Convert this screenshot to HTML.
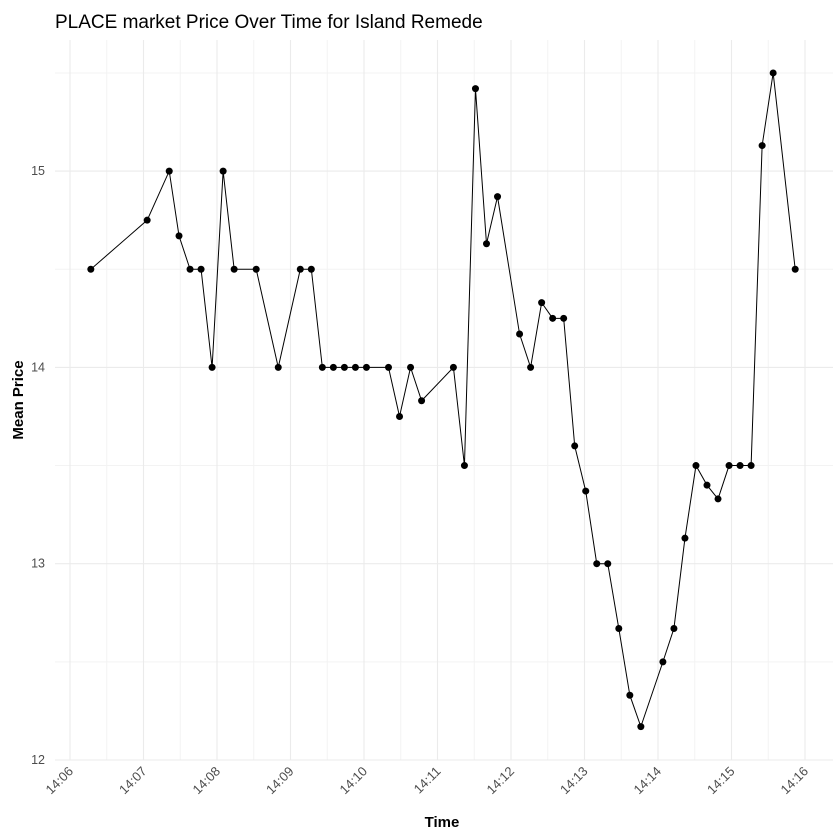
<!DOCTYPE html>
<html><head><meta charset="utf-8"><style>
body{margin:0;background:#fff;}
svg{display:block;font-family:"Liberation Sans",sans-serif;}
</style></head><body>
<svg id="chart" width="840" height="840"></svg>
<script>
const timesSec=[17,63,81,89,98,107,116,125,134,152,170,188,197,206,215,224,233,242,260,269,278,287,313,322,331,340,349,367,376,385,394,403,412,421,430,439,448,457,466,484,493,502,511,520,529,538,547,556,565,574,592];
const prices=[14.5,14.75,15,14.67,14.5,14.5,14,15,14.5,14.5,14,14.5,14.5,14,14,14,14,14,14,13.75,14,13.83,14,13.5,15.42,14.63,14.87,14.17,14,14.33,14.25,14.25,13.6,13.37,13,13,12.67,12.33,12.17,12.5,12.67,13.13,13.5,13.4,13.33,13.5,13.5,13.5,15.13,15.5,14.5];
const xTickLabels=["14:06","14:07","14:08","14:09","14:10","14:11","14:12","14:13","14:14","14:15","14:16"];
const yTickValues=[12,13,14,15];
const NS="http://www.w3.org/2000/svg";
const svg=document.getElementById('chart');
const L=55,R=833,T=40,B=760;
function xs(sec){return 70+sec/60*73.5;}
function ys(v){return 760-(v-12)*196.3;}
function mk(tag,attrs,parent){const e=document.createElementNS(NS,tag);for(const k in attrs)e.setAttribute(k,attrs[k]);(parent||svg).appendChild(e);return e;}
const grid=mk('g',{});


for(let i=0;i<xTickLabels.length-1;i++){const x=xs(i*60+30);mk('line',{x1:x,x2:x,y1:T,y2:B,stroke:'#f3f3f3','stroke-width':1},grid);}
for(let v=12.5;v<=15.5;v+=1){const y=ys(v);mk('line',{x1:L,x2:R,y1:y,y2:y,stroke:'#f3f3f3','stroke-width':1},grid);}
xTickLabels.forEach((t,i)=>{const x=xs(i*60);mk('line',{x1:x,x2:x,y1:T,y2:B,stroke:'#ebebeb','stroke-width':1.1},grid);});
yTickValues.forEach(v=>{const y=ys(v);mk('line',{x1:L,x2:R,y1:y,y2:y,stroke:'#ebebeb','stroke-width':1.1},grid);});
yTickValues.forEach(v=>{const t=mk('text',{x:45,y:ys(v)+4,'text-anchor':'end','font-size':12.5,fill:'#4d4d4d'});t.textContent=v;

});
xTickLabels.forEach((lab,i)=>{const x=xs(i*60);const t=mk('text',{x:x+4,y:772,'text-anchor':'end','font-size':13,fill:'#4d4d4d',transform:`rotate(-45 ${x+4} 772)`});t.textContent=lab;

});
const pts=timesSec.map((s,i)=>xs(s)+','+ys(prices[i])).join(' ');
const pl=mk('polyline',{points:pts,fill:'none',stroke:'#000','stroke-width':1});


timesSec.forEach((s,i)=>{const c=mk('circle',{cx:xs(s),cy:ys(prices[i]),r:3.5,fill:'#000'});

});
const ti=mk('text',{x:55,y:28,'font-size':19,fill:'#000'});ti.textContent='PLACE market Price Over Time for Island Remede';


const xt=mk('text',{x:442,y:827,'text-anchor':'middle','font-size':15,'font-weight':'bold',fill:'#000'});xt.textContent='Time';


const yt=mk('text',{x:23,y:400,'text-anchor':'middle','font-size':15,'font-weight':'bold',fill:'#000',transform:'rotate(-90 23 400)'});yt.textContent='Mean Price';


</script>
</body></html>
